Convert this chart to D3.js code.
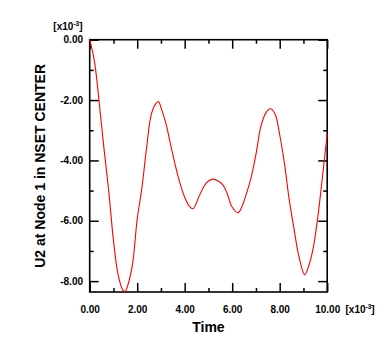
<!DOCTYPE html>
<html>
<head>
<meta charset="utf-8">
<script src="https://cdn.jsdelivr.net/npm/d3@7"></script>
<style>
  html, body { margin: 0; padding: 0; background: #fff; }
  svg { display: block; }
  text { font-family: "Liberation Sans", Arial, Helvetica, sans-serif; font-weight: bold; fill: #000; }
</style>
</head>
<body>
<div id="chart"></div>
<script>
// ---- data (time in 1e-3 units, U2 in 1e-3 units) ----
const timeValues = [0.0, 0.2, 0.4, 0.6, 0.8, 1.0, 1.2, 1.4, 1.5, 1.6, 1.8,
                    2.0, 2.2, 2.4, 2.6, 2.8, 2.9, 3.0, 3.2, 3.4, 3.6, 3.8,
                    4.0, 4.2, 4.35, 4.6, 4.8, 5.0, 5.2, 5.4, 5.6, 5.8,
                    6.0, 6.25, 6.4, 6.6, 6.8, 7.0, 7.2, 7.4, 7.6, 7.8,
                    8.0, 8.2, 8.4, 8.6, 8.8, 9.05, 9.2, 9.4, 9.6, 9.8, 10.0];
const u2Values = [0.0, -0.72, -2.08, -3.6, -5.0, -6.65, -7.8, -8.3, -8.34, -8.15, -7.45,
                  -5.95, -4.9, -3.55, -2.45, -2.1, -2.05, -2.25, -2.75, -3.45, -4.15, -4.75,
                  -5.22, -5.52, -5.6, -5.2, -4.87, -4.68, -4.62, -4.68, -4.8, -5.12,
                  -5.55, -5.73, -5.55, -5.1, -4.55, -3.8, -2.9, -2.45, -2.29, -2.45,
                  -3.15, -4.1, -5.3, -6.25, -7.15, -7.79, -7.55, -6.95, -5.9, -4.55, -3.12];
const xDomain = [0, 10];
const yDomain = [-8.36, 0];
const xMajorTicks = [0, 2, 4, 6, 8, 10];
const xMinorTicks = [1, 3, 5, 7, 9];
const yMajorTicks = [0, -2, -4, -6, -8];
const yMinorTicks = [-1, -3, -5, -7];
const xTitle = "Time";
const yTitle = "U2 at Node 1 in NSET CENTER";
const scaleBase = "[x10";
const scaleExp = "-3";

// ---- layout ----
const W = 390, H = 356;
const pL = 89.7, pR = 327.2, pT = 39.7, pB = 292;

const svg = d3.select("#chart").append("svg").attr("width", W).attr("height", H);

const x = d3.scaleLinear().domain(xDomain).range([pL, pR]);
const y = d3.scaleLinear().domain(yDomain).range([pB, pT]);

const fmt = v => (Math.abs(v) < 1e-9 ? 0 : v).toFixed(2);

function styleAxis(g) {
  g.select(".domain").remove();
  g.selectAll(".tick line").attr("stroke", "#000").attr("stroke-width", 1.5);
  g.selectAll(".tick text").style("font-size", "10px").style("font-weight", "bold").attr("fill", "#000");
}

// bottom axis (major with labels)
svg.append("g").attr("transform", `translate(0,${pB})`)
  .call(d3.axisBottom(x).tickValues(xMajorTicks).tickSizeInner(-9).tickSizeOuter(0).tickPadding(13.5).tickFormat(fmt))
  .call(styleAxis);
svg.append("g").attr("transform", `translate(0,${pB})`)
  .call(d3.axisBottom(x).tickValues(xMinorTicks).tickSizeInner(-4).tickSizeOuter(0).tickFormat(""))
  .call(styleAxis);
// top axis
svg.append("g").attr("transform", `translate(0,${pT})`)
  .call(d3.axisTop(x).tickValues(xMajorTicks).tickSizeInner(-9).tickSizeOuter(0).tickFormat(""))
  .call(styleAxis);
svg.append("g").attr("transform", `translate(0,${pT})`)
  .call(d3.axisTop(x).tickValues(xMinorTicks).tickSizeInner(-4).tickSizeOuter(0).tickFormat(""))
  .call(styleAxis);
// left axis (major with labels)
svg.append("g").attr("transform", `translate(${pL},0)`)
  .call(d3.axisLeft(y).tickValues(yMajorTicks).tickSizeInner(-9).tickSizeOuter(0).tickPadding(6.7).tickFormat(fmt))
  .call(styleAxis);
svg.append("g").attr("transform", `translate(${pL},0)`)
  .call(d3.axisLeft(y).tickValues(yMinorTicks).tickSizeInner(-4).tickSizeOuter(0).tickFormat(""))
  .call(styleAxis);
// right axis
svg.append("g").attr("transform", `translate(${pR},0)`)
  .call(d3.axisRight(y).tickValues(yMajorTicks).tickSizeInner(-9).tickSizeOuter(0).tickFormat(""))
  .call(styleAxis);
svg.append("g").attr("transform", `translate(${pR},0)`)
  .call(d3.axisRight(y).tickValues(yMinorTicks).tickSizeInner(-4).tickSizeOuter(0).tickFormat(""))
  .call(styleAxis);

// frame
svg.append("rect")
  .attr("x", pL).attr("y", pT)
  .attr("width", pR - pL).attr("height", pB - pT)
  .attr("fill", "none").attr("stroke", "#000").attr("stroke-width", 1.6);

// curve
const pts = timeValues.map((t, i) => [t, u2Values[i]]);
const line = d3.line().x(d => x(d[0])).y(d => y(d[1])).curve(d3.curveCatmullRom.alpha(0.5));
svg.append("path").datum(pts)
  .attr("d", line)
  .attr("fill", "none").attr("stroke", "#ff0000").attr("stroke-width", 1.1);

// scale factor labels
function scaleLabel(xPos, yBase, anchor) {
  const t = svg.append("text").attr("x", xPos).attr("y", yBase)
    .attr("text-anchor", anchor).style("font-size", "10px");
  t.append("tspan").text(scaleBase);
  t.append("tspan").attr("dy", -4).style("font-size", "6.5px").text(scaleExp);
  t.append("tspan").attr("dy", 4).text("]");
}
scaleLabel(82.5, 30, "end");
scaleLabel(345.5, 312.7, "start");

// axis titles
svg.append("text").attr("x", (pL + pR) / 2).attr("y", 331.7)
  .attr("text-anchor", "middle").style("font-size", "14px").text(xTitle);
svg.append("text")
  .attr("transform", `translate(45,${(pT + pB) / 2}) rotate(-90)`)
  .attr("text-anchor", "middle").style("font-size", "14px").text(yTitle);
</script>
</body>
</html>
